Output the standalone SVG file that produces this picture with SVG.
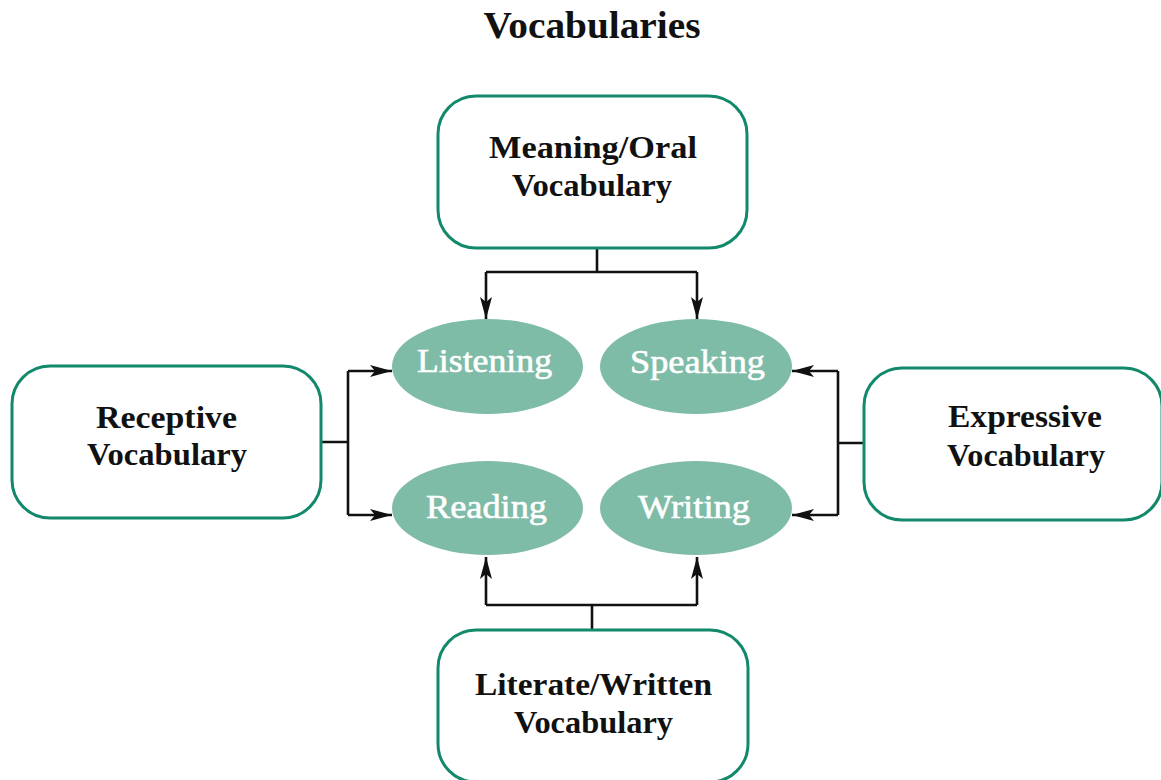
<svg xmlns="http://www.w3.org/2000/svg" width="1161" height="780" viewBox="0 0 1161 780">
<style>
.box{fill:#fff;stroke:#13896C;stroke-width:3}
.oval{fill:#7EBCA8}
.lbl{font-family:"Liberation Serif","Times New Roman",serif;font-weight:bold;font-size:32px;fill:#111;text-anchor:middle}
.olbl{font-family:"Liberation Serif","Times New Roman",serif;font-size:33px;fill:#fff;stroke:#fff;stroke-width:0.6;text-anchor:middle}
.title{font-family:"Liberation Serif","Times New Roman",serif;font-weight:bold;font-size:38px;fill:#111;text-anchor:middle}
.ln{fill:none;stroke:#111;stroke-width:2.6}
</style>
<defs>
<marker id="ah" viewBox="0 0 22 12" refX="22" refY="6" markerWidth="22" markerHeight="12" markerUnits="userSpaceOnUse" orient="auto">
<path d="M0,0 L22,6 L0,12 L5,6 Z" fill="#111"/>
</marker>
</defs>
<rect width="1161" height="780" fill="#fff"/>
<text class="title" x="592" y="38" textLength="217" lengthAdjust="spacingAndGlyphs">Vocabularies</text>

<g id="connectors">
<path class="ln" d="M597,248 V272 M486,272 H697"/>
<path class="ln" d="M486,272 V319" marker-end="url(#ah)"/>
<path class="ln" d="M697,272 V319" marker-end="url(#ah)"/>
<path class="ln" d="M321,442 H348 M348,371 V515"/>
<path class="ln" d="M348,371 H392" marker-end="url(#ah)"/>
<path class="ln" d="M348,515 H392" marker-end="url(#ah)"/>
<path class="ln" d="M864,443 H838 M838,371 V515"/>
<path class="ln" d="M838,371 H792" marker-end="url(#ah)"/>
<path class="ln" d="M838,515 H792" marker-end="url(#ah)"/>
<path class="ln" d="M592,630 V605 M486,605 H697"/>
<path class="ln" d="M486,605 V557" marker-end="url(#ah)"/>
<path class="ln" d="M697,605 V557" marker-end="url(#ah)"/>
</g>

<g id="meaning">
<rect class="box" x="438" y="96" width="309" height="152" rx="38"/>
<text class="lbl" x="593" y="158" textLength="208" lengthAdjust="spacingAndGlyphs">Meaning/Oral</text>
<text class="lbl" x="592" y="196" textLength="160" lengthAdjust="spacingAndGlyphs">Vocabulary</text>
</g>
<g id="receptive">
<rect class="box" x="12" y="366" width="309" height="152" rx="38"/>
<text class="lbl" x="166.5" y="428" textLength="141" lengthAdjust="spacingAndGlyphs">Receptive</text>
<text class="lbl" x="167" y="465" textLength="160" lengthAdjust="spacingAndGlyphs">Vocabulary</text>
</g>
<g id="expressive">
<rect class="box" x="864" y="368" width="298" height="152" rx="38"/>
<text class="lbl" x="1025" y="427" textLength="154" lengthAdjust="spacingAndGlyphs">Expressive</text>
<text class="lbl" x="1026" y="466" textLength="158" lengthAdjust="spacingAndGlyphs">Vocabulary</text>
</g>
<g id="literate">
<rect class="box" x="438" y="630" width="310" height="152" rx="38"/>
<text class="lbl" x="593.5" y="695" textLength="237" lengthAdjust="spacingAndGlyphs">Literate/Written</text>
<text class="lbl" x="593.5" y="733" textLength="159" lengthAdjust="spacingAndGlyphs">Vocabulary</text>
</g>
<g id="listening">
<ellipse class="oval" cx="487.5" cy="366.5" rx="95.5" ry="47.5"/>
<text class="olbl" x="484.5" y="372" textLength="135" lengthAdjust="spacingAndGlyphs">Listening</text>
</g>
<g id="speaking">
<ellipse class="oval" cx="696" cy="366.5" rx="96" ry="47.5"/>
<text class="olbl" x="697.5" y="373" textLength="135" lengthAdjust="spacingAndGlyphs">Speaking</text>
</g>
<g id="reading">
<ellipse class="oval" cx="487.5" cy="508" rx="95.5" ry="47"/>
<text class="olbl" x="486.5" y="518" textLength="121" lengthAdjust="spacingAndGlyphs">Reading</text>
</g>
<g id="writing">
<ellipse class="oval" cx="696" cy="508" rx="96" ry="47"/>
<text class="olbl" x="694" y="518" textLength="112" lengthAdjust="spacingAndGlyphs">Writing</text>
</g>
</svg>
